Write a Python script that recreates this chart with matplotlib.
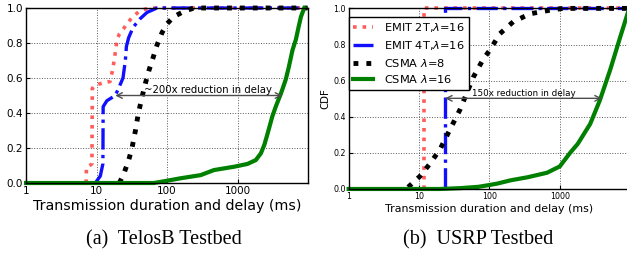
import matplotlib
matplotlib.use("Agg")
import matplotlib.pyplot as plt
from matplotlib.ticker import FixedLocator, FixedFormatter, NullLocator

# ---------------- data ----------------
labels = ["EMIT 2T,$\\lambda$=16", "EMIT 4T,$\\lambda$=16", "CSMA $\\lambda$=8", "CSMA $\\lambda$=16"]
xticks = [1, 10, 100, 1000]
xticklabels = ["1", "10", "100", "1000"]
yticks = [0.0, 0.2, 0.4, 0.6, 0.8, 1.0]

# (a) TelosB testbed
telos_emit2_x = [7.1, 7.2, 8.0, 8.6, 8.7, 9.5, 12, 15.5, 17, 18.5, 19.5, 21, 24, 27, 31, 35, 40, 46, 55, 9800]
telos_emit2_y = [0, 0.09, 0.10, 0.11, 0.54, 0.56, 0.57, 0.58, 0.65, 0.75, 0.82, 0.85, 0.88, 0.91, 0.94, 0.96, 0.98, 0.99, 1.0, 1.0]
telos_emit4_x = [9.6, 11.3, 12.3, 12.4, 14, 18.4, 20.5, 23.7, 25.6, 26.5, 28.5, 33, 41.8, 52, 72, 9800]
telos_emit4_y = [0, 0.04, 0.11, 0.436, 0.47, 0.50, 0.54, 0.60, 0.70, 0.78, 0.83, 0.89, 0.94, 0.975, 1.0, 1.0]
telos_csma8_x = [21, 24.2, 28.5, 31.8, 35.6, 38.8, 44, 49.3, 55, 64.9, 72.2, 85, 100, 124, 172, 240, 9800]
telos_csma8_y = [0, 0.05, 0.13, 0.20, 0.30, 0.39, 0.49, 0.57, 0.64, 0.73, 0.79, 0.86, 0.91, 0.95, 0.98, 1.0, 1.0]
telos_csma16_x = [1, 65, 100, 155, 299, 462, 890, 1380, 1810, 2140, 2400, 2650, 3100, 3500, 4100, 4800, 5300, 6000, 6700, 7300, 7900, 8800]
telos_csma16_y = [0, 0, 0.013, 0.027, 0.045, 0.074, 0.093, 0.109, 0.131, 0.17, 0.22, 0.28, 0.38, 0.44, 0.51, 0.59, 0.66, 0.76, 0.82, 0.89, 0.95, 1.0]

# (b) USRP testbed
usrp_emit2_x = [11.8, 11.8, 9900]
usrp_emit2_y = [0, 1.0, 1.0]
usrp_emit4_x = [23.4, 23.4, 9900]
usrp_emit4_y = [0, 1.0, 1.0]
usrp_csma8_x = [7.0, 10.3, 14.3, 19.9, 27.6, 38.3, 47.6, 59.3, 82, 102, 141, 218, 377, 726, 1130, 9900]
usrp_csma8_y = [0.01, 0.07, 0.14, 0.22, 0.33, 0.44, 0.53, 0.62, 0.72, 0.77, 0.86, 0.926, 0.97, 0.99, 1.0, 1.0]
usrp_csma16_x = [1, 20, 40, 70, 100, 130, 200, 350, 660, 1000, 1400, 1800, 2700, 3700, 5200, 7200, 9500]
usrp_csma16_y = [0, 0, 0.005, 0.012, 0.022, 0.03, 0.048, 0.065, 0.09, 0.125, 0.2, 0.25, 0.36, 0.49, 0.66, 0.84, 0.99]

# ---------------- styles ----------------
styles = [
    dict(color="#ff4040", ls=":", lw=2.6, alpha=0.85),
    dict(color="#1010ff", ls="-.", lw=2.4),
    dict(color="black", ls=":", lw=3.5),
    dict(color="#008000", ls="-", lw=3.0),
]

fig = plt.figure(figsize=(6.27, 2.54), dpi=100)
ax1 = fig.add_axes([0.0415, 0.2795, 0.449, 0.689])
ax2 = fig.add_axes([0.556, 0.256, 0.4486, 0.711])

def setup(ax, tick_fs, xlabel_fs, xmax):
    ax.set_xscale("log")
    ax.set_xlim(1, xmax)
    ax.set_ylim(0, 1.0)
    ax.xaxis.set_major_locator(FixedLocator(xticks))
    ax.xaxis.set_major_formatter(FixedFormatter(xticklabels))
    ax.xaxis.set_minor_locator(NullLocator())
    ax.set_yticks(yticks)
    ax.set_yticklabels(["%.1f" % v for v in yticks])
    ax.tick_params(direction="in", length=3, labelsize=tick_fs, pad=2)
    ax.grid(True, ls=":", color="0.35", lw=0.7)
    ax.set_axisbelow(True)
    for s in ax.spines.values():
        s.set_linewidth(1.0)
        s.set_color("black")
    ax.set_xlabel("Transmission duration and delay (ms)", fontsize=xlabel_fs, labelpad=2)

telos = [(telos_emit2_x, telos_emit2_y), (telos_emit4_x, telos_emit4_y),
         (telos_csma8_x, telos_csma8_y), (telos_csma16_x, telos_csma16_y)]
usrp = [(usrp_emit2_x, usrp_emit2_y), (usrp_emit4_x, usrp_emit4_y),
        (usrp_csma8_x, usrp_csma8_y), (usrp_csma16_x, usrp_csma16_y)]

for (x, y), st, lab in zip(telos, styles, labels):
    ax1.plot(x, y, label=lab, clip_on=False, **st)
for (x, y), st, lab in zip(usrp, styles, labels):
    ax2.plot(x, y, label=lab, clip_on=False, **st)

setup(ax1, 7.5, 10.3, 9800)
setup(ax2, 5.7, 7.9, 9900)
ax2.set_ylabel("CDF", fontsize=7.4, labelpad=2)

# annotations
ax1.annotate("", xy=(18.4, 0.5), xytext=(4300, 0.5),
             arrowprops=dict(arrowstyle="<->", color="0.3", lw=1.0, shrinkA=0, shrinkB=0))
ax1.text(47, 0.514, "~200x reduction in delay", fontsize=7.3, va="baseline")
ax2.annotate("", xy=(23.4, 0.502), xytext=(3970, 0.502),
             arrowprops=dict(arrowstyle="<->", color="0.3", lw=1.0, shrinkA=0, shrinkB=0))
ax2.text(56, 0.515, "150x reduction in delay", fontsize=6.3, va="baseline")

leg = ax2.legend(loc="upper left", bbox_to_anchor=(0.0, 0.953), borderaxespad=0,
                 fontsize=8.2, fancybox=False, edgecolor="black", framealpha=1,
                 handlelength=1.7, labelspacing=0.4, handletextpad=1.0, borderpad=0.4)
leg.get_frame().set_linewidth(1.0)
leg.set_zorder(5)

fig.text(0.261, 0.055, "(a)  TelosB Testbed", family="Liberation Serif", fontsize=14.5,
         ha="center", va="center")
fig.text(0.763, 0.055, "(b)  USRP Testbed", family="Liberation Serif", fontsize=14.5,
         ha="center", va="center")

fig.savefig("out.png", dpi=100)
